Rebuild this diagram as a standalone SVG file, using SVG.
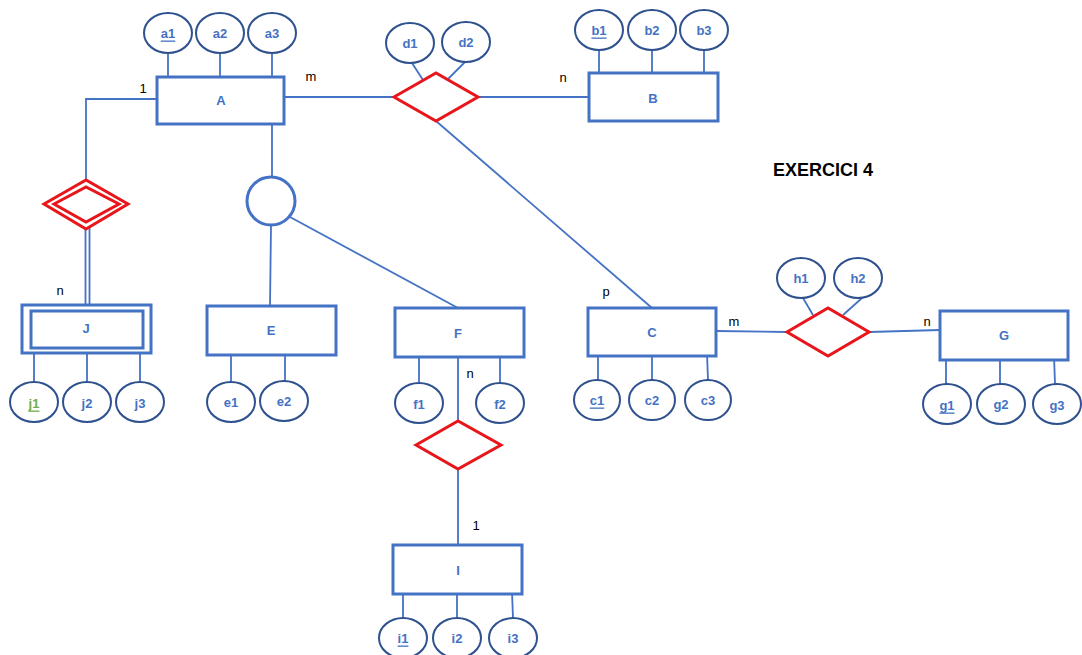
<svg xmlns="http://www.w3.org/2000/svg" width="1082" height="655" viewBox="0 0 1082 655">
  <style>
    .ent { fill: #ffffff; stroke: #4472C4; stroke-width: 3; }
    .att { fill: #ffffff; stroke: #2F528F; stroke-width: 2; }
    .rel { fill: #ffffff; stroke: #E8161B; stroke-width: 3; }
    .ln { stroke: #4472C4; stroke-width: 1.8; fill: none; }
    .lbl { font-family: "Liberation Sans", Arial, sans-serif; font-size: 13px; font-weight: bold; fill: #4472C4; text-anchor: middle; dominant-baseline: central; }
    .key { text-decoration: underline; }
    .card { font-family: "Liberation Sans", Arial, sans-serif; font-size: 13px; fill: #000000; text-anchor: middle; dominant-baseline: central; }
    .title { font-family: "Liberation Sans", Arial, sans-serif; font-size: 18px; font-weight: bold; fill: #000000; text-anchor: middle; dominant-baseline: central; }
  </style>
  <rect width="1082" height="655" fill="#ffffff"/>

  <!-- connectors -->
  <g id="connectors">
    <!-- A attributes -->
    <line class="ln" x1="168" y1="52" x2="168" y2="77"/>
    <line class="ln" x1="220" y1="52" x2="220" y2="77"/>
    <line class="ln" x1="272" y1="52" x2="272" y2="77"/>
    <!-- A - R1 - B -->
    <line class="ln" x1="285" y1="97" x2="394" y2="97"/>
    <line class="ln" x1="478" y1="97" x2="589" y2="97"/>
    <line class="ln" x1="412" y1="63" x2="423" y2="80"/>
    <line class="ln" x1="465" y1="62" x2="447" y2="80"/>
    <!-- B attributes -->
    <line class="ln" x1="599" y1="50" x2="599" y2="73"/>
    <line class="ln" x1="652" y1="50" x2="652" y2="73"/>
    <line class="ln" x1="704" y1="50" x2="704" y2="73"/>
    <!-- R1 - C -->
    <line class="ln" x1="436" y1="121" x2="652" y2="308"/>
    <!-- A - weak relation - J -->
    <polyline class="ln" points="157,99 86,99 86,181"/>
    <line class="ln" x1="85.5" y1="228" x2="85.5" y2="305"/>
    <line class="ln" x1="89.5" y1="228" x2="89.5" y2="305"/>
    <!-- J attributes -->
    <line class="ln" x1="34" y1="353" x2="34" y2="382"/>
    <line class="ln" x1="87" y1="353" x2="87" y2="382"/>
    <line class="ln" x1="140" y1="353" x2="140" y2="382"/>
    <!-- A - specialization - E, F -->
    <line class="ln" x1="272" y1="124" x2="272" y2="177"/>
    <line class="ln" x1="271" y1="225" x2="270" y2="306"/>
    <line class="ln" x1="290" y1="217" x2="458" y2="308"/>
    <!-- E attributes -->
    <line class="ln" x1="231" y1="355" x2="231" y2="382"/>
    <line class="ln" x1="285" y1="355" x2="285" y2="382"/>
    <!-- F attributes and F - R3 - I -->
    <line class="ln" x1="419" y1="357" x2="419" y2="382"/>
    <line class="ln" x1="500" y1="357" x2="500" y2="382"/>
    <line class="ln" x1="458" y1="357" x2="458" y2="421"/>
    <line class="ln" x1="458" y1="469" x2="458" y2="545"/>
    <!-- I attributes -->
    <line class="ln" x1="403" y1="594" x2="403" y2="618"/>
    <line class="ln" x1="457" y1="594" x2="457" y2="618"/>
    <line class="ln" x1="512" y1="592" x2="513" y2="618"/>
    <!-- C attributes -->
    <line class="ln" x1="598" y1="356" x2="598" y2="380"/>
    <line class="ln" x1="652" y1="356" x2="652" y2="380"/>
    <line class="ln" x1="707" y1="353" x2="708" y2="380"/>
    <!-- C - R2 - G -->
    <line class="ln" x1="716" y1="331" x2="787" y2="332"/>
    <line class="ln" x1="869" y1="332" x2="940" y2="330"/>
    <line class="ln" x1="803" y1="298" x2="813" y2="315"/>
    <line class="ln" x1="862" y1="298" x2="843" y2="315"/>
    <!-- G attributes -->
    <line class="ln" x1="946" y1="360" x2="946" y2="384"/>
    <line class="ln" x1="1000" y1="360" x2="1000" y2="384"/>
    <line class="ln" x1="1054" y1="356" x2="1055" y2="384"/>
  </g>

  <!-- cardinalities -->
  <g id="cardinalities">
    <text class="card" x="143" y="88">1</text>
    <text class="card" x="311" y="76">m</text>
    <text class="card" x="563" y="77">n</text>
    <text class="card" x="60" y="290">n</text>
    <text class="card" x="606" y="291">p</text>
    <text class="card" x="734" y="321">m</text>
    <text class="card" x="927" y="321">n</text>
    <text class="card" x="470" y="373">n</text>
    <text class="card" x="476" y="525">1</text>
  </g>

  <text class="title" x="823" y="170">EXERCICI 4</text>

  <!-- entity A -->
  <g id="A">
    <rect class="ent" x="157" y="77" width="127" height="47"/>
    <text class="lbl" x="221" y="100">A</text>
    <ellipse class="att" cx="168" cy="33" rx="24" ry="20"/>
    <text class="lbl key" x="168" y="33">a1</text>
    <ellipse class="att" cx="220" cy="33" rx="24" ry="20"/>
    <text class="lbl" x="220" y="33">a2</text>
    <ellipse class="att" cx="272" cy="33" rx="24" ry="20"/>
    <text class="lbl" x="272" y="33">a3</text>
  </g>

  <!-- relationship A-B-C -->
  <g id="R1">
    <polygon class="rel" points="394,97 436,73 478,97 436,121"/>
    <ellipse class="att" cx="410" cy="43" rx="24" ry="20"/>
    <text class="lbl" x="410" y="43">d1</text>
    <ellipse class="att" cx="466" cy="42" rx="24" ry="20"/>
    <text class="lbl" x="466" y="42">d2</text>
  </g>

  <!-- entity B -->
  <g id="B">
    <rect class="ent" x="589" y="73" width="129" height="48"/>
    <text class="lbl" x="653" y="98">B</text>
    <ellipse class="att" cx="599" cy="30" rx="24" ry="20"/>
    <text class="lbl key" x="599" y="30">b1</text>
    <ellipse class="att" cx="652" cy="30" rx="24" ry="20"/>
    <text class="lbl" x="652" y="30">b2</text>
    <ellipse class="att" cx="704" cy="30" rx="24" ry="20"/>
    <text class="lbl" x="704" y="30">b3</text>
  </g>

  <!-- identifying relationship A-J -->
  <g id="RJ">
    <polygon class="rel" points="44,204 86,180 128,204 86,229"/>
    <polygon class="rel" points="54,204 86,187 119,204 86,222"/>
  </g>

  <!-- weak entity J -->
  <g id="J">
    <rect class="ent" x="22" y="305" width="129" height="48"/>
    <rect class="ent" x="31" y="311" width="112" height="37"/>
    <text class="lbl" x="86" y="328">J</text>
    <ellipse class="att" cx="34" cy="402" rx="24" ry="20"/>
    <text class="lbl key" x="34" y="403" style="fill:#70AD47">j1</text>
    <ellipse class="att" cx="87" cy="402" rx="24" ry="20"/>
    <text class="lbl" x="87" y="403">j2</text>
    <ellipse class="att" cx="140" cy="402" rx="24" ry="20"/>
    <text class="lbl" x="140" y="403">j3</text>
  </g>

  <!-- specialization circle -->
  <g id="ISA">
    <circle class="ent" cx="271" cy="201" r="24"/>
  </g>

  <!-- entity E -->
  <g id="E">
    <rect class="ent" x="207" y="306" width="129" height="49"/>
    <text class="lbl" x="271" y="330">E</text>
    <ellipse class="att" cx="231" cy="402" rx="24" ry="20"/>
    <text class="lbl" x="231" y="402">e1</text>
    <ellipse class="att" cx="284" cy="401" rx="24" ry="20"/>
    <text class="lbl" x="284" y="401">e2</text>
  </g>

  <!-- entity F -->
  <g id="F">
    <rect class="ent" x="395" y="308" width="129" height="49"/>
    <text class="lbl" x="458" y="333">F</text>
    <ellipse class="att" cx="419" cy="403" rx="24" ry="20"/>
    <text class="lbl" x="419" y="404">f1</text>
    <ellipse class="att" cx="500" cy="403" rx="24" ry="20"/>
    <text class="lbl" x="500" y="404">f2</text>
  </g>

  <!-- relationship F-I -->
  <g id="R3">
    <polygon class="rel" points="416,445 458,421 501,445 458,469"/>
  </g>

  <!-- entity I -->
  <g id="I">
    <rect class="ent" x="393" y="545" width="129" height="49"/>
    <text class="lbl" x="458" y="570">I</text>
    <ellipse class="att" cx="403" cy="638" rx="24" ry="20"/>
    <text class="lbl key" x="403" y="638">i1</text>
    <ellipse class="att" cx="457" cy="638" rx="24" ry="20"/>
    <text class="lbl" x="457" y="638">i2</text>
    <ellipse class="att" cx="513" cy="638" rx="24" ry="20"/>
    <text class="lbl" x="513" y="638">i3</text>
  </g>

  <!-- entity C -->
  <g id="C">
    <rect class="ent" x="588" y="308" width="128" height="48"/>
    <text class="lbl" x="652" y="332">C</text>
    <ellipse class="att" cx="597" cy="400" rx="23" ry="20"/>
    <text class="lbl key" x="597" y="400">c1</text>
    <ellipse class="att" cx="652" cy="400" rx="23" ry="20"/>
    <text class="lbl" x="652" y="400">c2</text>
    <ellipse class="att" cx="708" cy="400" rx="23" ry="20"/>
    <text class="lbl" x="708" y="400">c3</text>
  </g>

  <!-- relationship C-G -->
  <g id="R2">
    <polygon class="rel" points="787,332 828,308 869,332 828,356"/>
    <ellipse class="att" cx="801" cy="278" rx="24" ry="20"/>
    <text class="lbl" x="801" y="278">h1</text>
    <ellipse class="att" cx="858" cy="278" rx="24" ry="20"/>
    <text class="lbl" x="858" y="278">h2</text>
  </g>

  <!-- entity G -->
  <g id="G">
    <rect class="ent" x="940" y="311" width="128" height="49"/>
    <text class="lbl" x="1004" y="335">G</text>
    <ellipse class="att" cx="947" cy="404" rx="24" ry="20"/>
    <text class="lbl key" x="947" y="405">g1</text>
    <ellipse class="att" cx="1001" cy="404" rx="24" ry="20"/>
    <text class="lbl" x="1001" y="404">g2</text>
    <ellipse class="att" cx="1057" cy="404" rx="24" ry="20"/>
    <text class="lbl" x="1057" y="405">g3</text>
  </g>
</svg>
